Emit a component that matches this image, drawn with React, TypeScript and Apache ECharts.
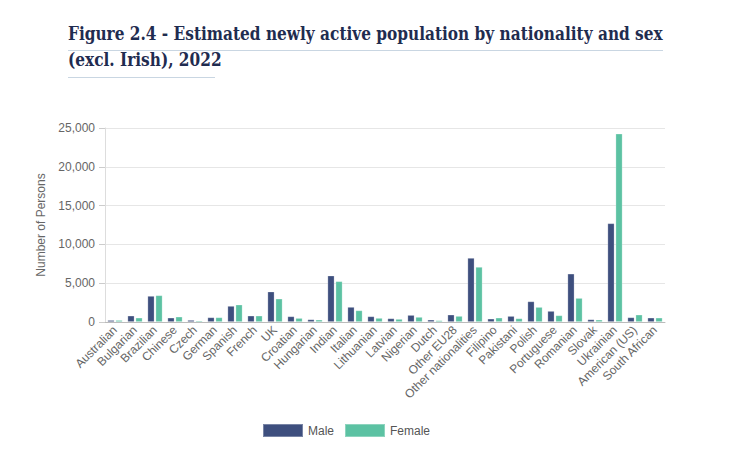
import React, { useEffect, useRef } from "react";
import * as echarts from "echarts";

const categories = [
  "Australian", "Bulgarian", "Brazilian", "Chinese", "Czech", "German", "Spanish", "French", "UK",
  "Croatian", "Hungarian", "Indian", "Italian", "Lithuanian", "Latvian", "Nigerian", "Dutch",
  "Other EU28", "Other nationalities", "Filipino", "Pakistani", "Polish", "Portuguese", "Romanian",
  "Slovak", "Ukrainian", "American (US)", "South African",
];
const maleValues = [
  250, 820, 3360, 560, 260, 600, 2070, 820, 3920,
  730, 340, 5980, 1940, 730, 470, 900, 300,
  950, 8260, 430, 770, 2660, 1420, 6230,
  340, 12720, 600, 560,
];
const femaleValues = [
  250, 560, 3440, 690, 180, 600, 2240, 820, 3010,
  510, 300, 5250, 1500, 520, 390, 650, 215,
  775, 7100, 560, 470, 1930, 860, 3090,
  300, 24270, 950, 560,
];
const seriesNames = ["Male", "Female"];
const titleLine1 = "Figure 2.4 - Estimated newly active population by nationality and sex";
const titleLine2 = "(excl. Irish), 2022";
const yAxisName = "Number of Persons";

const TITLE_FONT = 'bold 18px "DejaVu Serif"';

function measure(text: string): number {
  const c = document.createElement("canvas");
  const ctx = c.getContext("2d");
  if (!ctx) return 0;
  ctx.font = TITLE_FONT;
  return ctx.measureText(text).width;
}

export default function App() {
  const ref = useRef<HTMLDivElement>(null);
  useEffect(() => {
    if (!ref.current) return;
    const chart = echarts.init(ref.current, undefined, { renderer: "svg" });
    const w1 = measure(titleLine1) || 595;
    const sx = 595 / w1;
    const titleColor = "#1f2c50";
    const lineColor = "#c9d6e2";
    chart.setOption({
      animation: false,
      backgroundColor: "#ffffff",
      graphic: [
        {
          type: "text",
          x: 60,
          y: 17,
          scaleX: sx,
          style: {
            text: titleLine1,
            font: TITLE_FONT,
            fill: titleColor,
          },
        },
        {
          type: "text",
          x: 60,
          y: 43,
          scaleX: sx,
          style: {
            text: titleLine2,
            font: TITLE_FONT,
            fill: titleColor,
          },
        },
        {
          type: "line",
          shape: { x1: 60, y1: 42.5, x2: 655, y2: 42.5 },
          style: { stroke: lineColor, lineWidth: 1 },
        },
        {
          type: "line",
          shape: { x1: 60, y1: 69.5, x2: 207, y2: 69.5 },
          style: { stroke: lineColor, lineWidth: 1 },
        },
      ],
      legend: {
        data: seriesNames,
        left: 249,
        top: 410,
        itemWidth: 40,
        itemHeight: 13,
        itemGap: 10,
        icon: "rect",
        textStyle: { fontFamily: "Liberation Sans", fontSize: 12, color: "#555" },
      },
      grid: { left: 97, right: 71, top: 120, bottom: 127, containLabel: false },
      xAxis: {
        type: "category",
        data: categories,
        axisLine: { lineStyle: { color: "#bbbbbb" } },
        axisTick: { show: false },
        axisLabel: {
          rotate: 45,
          interval: 0,
          fontFamily: "Liberation Sans",
          fontSize: 12,
          color: "#666",
          margin: 6,
        },
      },
      yAxis: {
        type: "value",
        min: 0,
        max: 25000,
        interval: 5000,
        name: yAxisName,
        nameLocation: "middle",
        nameGap: 58,
        nameTextStyle: { fontFamily: "Liberation Sans", fontSize: 12, color: "#666" },
        axisLine: { show: true, lineStyle: { color: "#dddddd" } },
        axisTick: { show: true, length: 6, lineStyle: { color: "#cccccc" } },
        splitLine: { lineStyle: { color: "#e6e6e6" } },
        axisLabel: {
          fontFamily: "Liberation Sans",
          fontSize: 12,
          color: "#666",
          margin: 10,
          formatter: (v: number) => v.toLocaleString("en-US"),
        },
      },
      series: [
        {
          name: seriesNames[0],
          type: "bar",
          data: maleValues,
          barWidth: 7,
          barGap: "15%",
          itemStyle: { color: "#3e4f7e", borderColor: "rgba(255,255,255,0.3)", borderWidth: 0.8 },
        },
        {
          name: seriesNames[1],
          type: "bar",
          data: femaleValues,
          barWidth: 7,
          itemStyle: { color: "#5cc2a3", borderColor: "rgba(255,255,255,0.3)", borderWidth: 0.8 },
        },
      ],
    });
    return () => chart.dispose();
  }, []);
  return <div ref={ref} style={{ width: 728, height: 441 }} />;
}
